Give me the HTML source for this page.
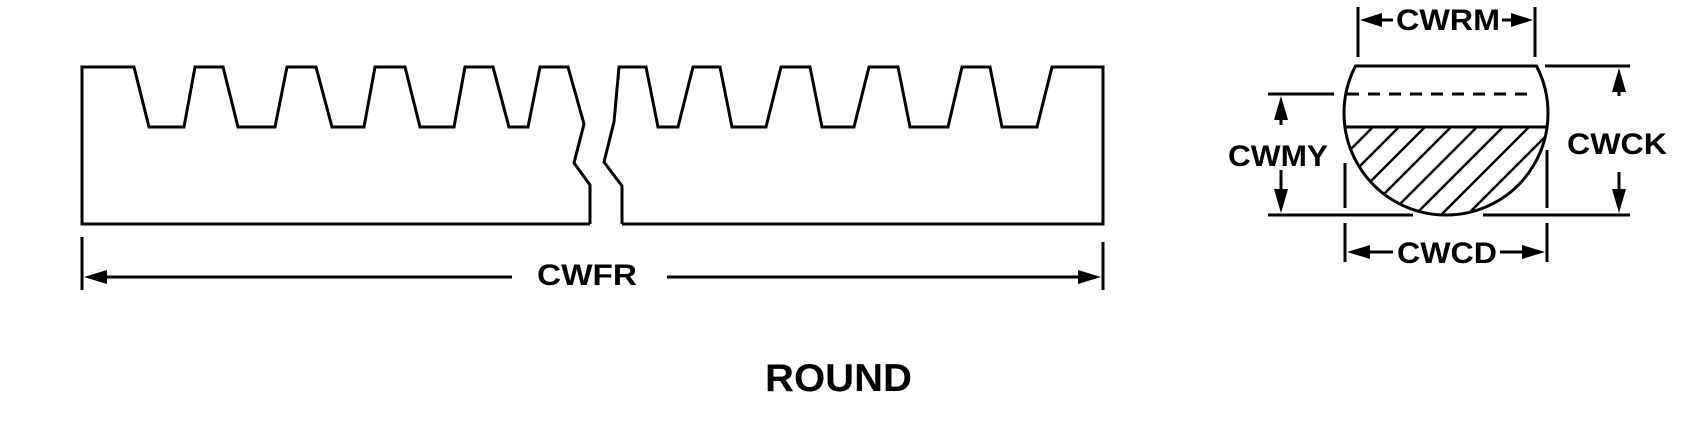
<!DOCTYPE html>
<html><head><meta charset="utf-8"><style>html,body{margin:0;padding:0;background:#fff;}svg{display:block}</style></head>
<body>
<svg width="1704" height="443" viewBox="0 0 1704 443" xmlns="http://www.w3.org/2000/svg">
<defs>
<clipPath id="seg"><path d="M1300 127 H1600 V260 H1300 Z"/></clipPath>
<clipPath id="circ"><circle cx="1446" cy="113" r="102"/></clipPath>
</defs>
<g fill="none" stroke="#000" stroke-width="3" stroke-linejoin="miter">
<!-- left rack piece -->
<polyline points="590,224 82,224 82,67 134,67 149,127 184,127 195,67 223,67 238,127 275,127 287,67 316,67 332,127 364,127 375,67 405,67 420,127 454,127 465,67 493,67 509,127 528,127 540,67 568,67 584,124 574,163 590,185 590,224"/>
<!-- right rack piece -->
<polyline points="622,224 1103,224 1103,67 1052,67 1037,127 1002,127 990,67 962,67 948,127 910,127 898,67 869,67 854,127 822,127 810,67 781,67 766,127 732,127 720,67 693,67 678,127 658,127 646,67 619,67 614,122 613,126 604,162 622,186 622,224"/>
<!-- CWFR dim -->
<line x1="82" y1="237" x2="82" y2="290"/>
<line x1="1103" y1="242" x2="1103" y2="290"/>
<line x1="95" y1="277" x2="512" y2="277"/>
<line x1="667" y1="277" x2="1090" y2="277"/>
<!-- circle segment -->
<path d="M1355.5 66 H1536.5 A102 102 0 1 1 1355.5 66 Z"/>
<line x1="1347" y1="94" x2="1536" y2="94" stroke-dasharray="12,9"/>
<line x1="1346" y1="127" x2="1547" y2="127"/>
<g clip-path="url(#circ)"><g clip-path="url(#seg)" stroke-width="2.5">
<line x1="1373" y1="127" x2="1253" y2="247"/>
<line x1="1399" y1="127" x2="1279" y2="247"/>
<line x1="1425" y1="127" x2="1305" y2="247"/>
<line x1="1451" y1="127" x2="1331" y2="247"/>
<line x1="1477" y1="127" x2="1357" y2="247"/>
<line x1="1503" y1="127" x2="1383" y2="247"/>
<line x1="1529" y1="127" x2="1409" y2="247"/>
<line x1="1555" y1="127" x2="1435" y2="247"/>
<line x1="1581" y1="127" x2="1461" y2="247"/>
<line x1="1607" y1="127" x2="1487" y2="247"/>
</g></g>
<!-- CWRM -->
<line x1="1358" y1="7" x2="1358" y2="57"/>
<line x1="1535" y1="7" x2="1535" y2="57"/>
<line x1="1370" y1="20" x2="1393" y2="20"/>
<line x1="1502" y1="20" x2="1523" y2="20"/>
<!-- CWMY -->
<line x1="1268" y1="94" x2="1334" y2="94"/>
<line x1="1268" y1="215" x2="1413" y2="215"/>
<line x1="1483" y1="215" x2="1630" y2="215"/>
<line x1="1545" y1="66" x2="1630" y2="66"/>
<line x1="1281" y1="106" x2="1281" y2="125"/>
<line x1="1281" y1="170" x2="1281" y2="203"/>
<!-- CWCK -->
<line x1="1619" y1="78" x2="1619" y2="96"/>
<line x1="1619" y1="172" x2="1619" y2="203"/>
<!-- CWCD -->
<line x1="1345" y1="163" x2="1345" y2="208"/>
<line x1="1345" y1="223" x2="1345" y2="262"/>
<line x1="1547" y1="150" x2="1547" y2="208"/>
<line x1="1547" y1="223" x2="1547" y2="262"/>
<line x1="1358" y1="252" x2="1393" y2="252"/>
<line x1="1500" y1="252" x2="1534" y2="252"/>
</g>
<g fill="#000">
<polygon points="84,277 107,270 107,284"/>
<polygon points="1101,277 1078,270 1078,284"/>
<polygon points="1360,20 1382,13 1382,27"/>
<polygon points="1533,20 1511,13 1511,27"/>
<polygon points="1281,96 1274,120 1288,120"/>
<polygon points="1281,213 1274,189 1288,189"/>
<polygon points="1619,68 1612,92 1626,92"/>
<polygon points="1619,213 1612,189 1626,189"/>
<polygon points="1347,252 1370,245 1370,259"/>
<polygon points="1545,252 1522,245 1522,259"/>
</g>
<g font-family="Liberation Sans, Arial, sans-serif" font-weight="bold" fill="#000">
<text x="537" y="285" font-size="30" textLength="100" lengthAdjust="spacingAndGlyphs">CWFR</text>
<text x="765" y="391" font-size="39" textLength="147" lengthAdjust="spacingAndGlyphs">ROUND</text>
<text x="1396" y="30" font-size="30" textLength="104" lengthAdjust="spacingAndGlyphs">CWRM</text>
<text x="1228" y="166" font-size="30" textLength="100" lengthAdjust="spacingAndGlyphs">CWMY</text>
<text x="1567" y="154" font-size="30" textLength="100" lengthAdjust="spacingAndGlyphs">CWCK</text>
<text x="1397" y="263" font-size="30" textLength="100" lengthAdjust="spacingAndGlyphs">CWCD</text>
</g>
</svg>
</body></html>
